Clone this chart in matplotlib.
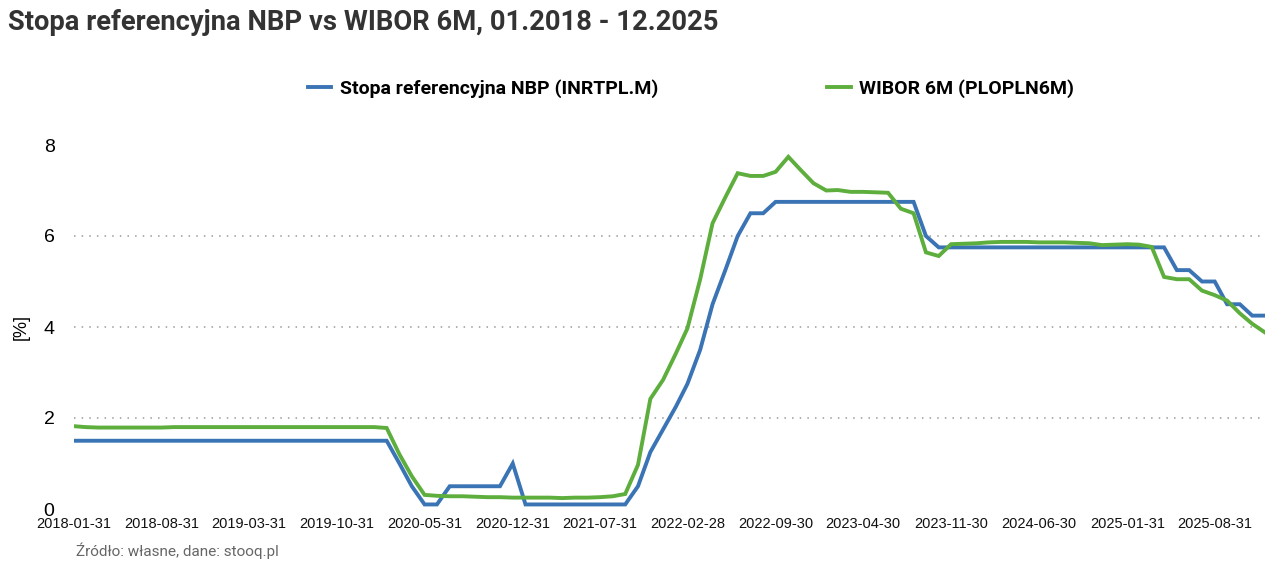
import matplotlib
matplotlib.use("Agg")
import matplotlib.pyplot as plt
import pandas as pd

# miesiące (koniec miesiąca) 2018-01 .. 2025-12
daty = pd.date_range("2018-01-31", periods=96, freq="ME")

# stopa referencyjna NBP [%]
nbp = [1.5, 1.5, 1.5, 1.5, 1.5, 1.5, 1.5, 1.5, 1.5, 1.5, 1.5, 1.5,
       1.5, 1.5, 1.5, 1.5, 1.5, 1.5, 1.5, 1.5, 1.5, 1.5, 1.5, 1.5,
       1.5, 1.5, 1.0, 0.5, 0.1, 0.1, 0.5, 0.5, 0.5, 0.5, 0.5, 1.0,
       0.1, 0.1, 0.1, 0.1, 0.1, 0.1, 0.1, 0.1, 0.1, 0.5, 1.25, 1.75,
       2.25, 2.75, 3.5, 4.5, 5.25, 6.0, 6.5, 6.5, 6.75, 6.75, 6.75, 6.75,
       6.75, 6.75, 6.75, 6.75, 6.75, 6.75, 6.75, 6.75, 6.0, 5.75, 5.75, 5.75,
       5.75, 5.75, 5.75, 5.75, 5.75, 5.75, 5.75, 5.75, 5.75, 5.75, 5.75, 5.75,
       5.75, 5.75, 5.75, 5.75, 5.25, 5.25, 5.0, 5.0, 4.5, 4.5, 4.25, 4.25]

# WIBOR 6M [%]
wibor = [1.82, 1.80, 1.79, 1.79, 1.79, 1.79, 1.79, 1.79, 1.80, 1.80, 1.80, 1.80,
         1.80, 1.80, 1.80, 1.80, 1.80, 1.80, 1.80, 1.80, 1.80, 1.80, 1.80, 1.80,
         1.80, 1.78, 1.20, 0.72, 0.31, 0.29, 0.28, 0.28, 0.27, 0.26, 0.26, 0.25,
         0.25, 0.25, 0.25, 0.24, 0.25, 0.25, 0.26, 0.28, 0.33, 0.97, 2.42, 2.84,
         3.42, 3.97, 5.05, 6.28, 6.85, 7.38, 7.32, 7.32, 7.41, 7.74, 7.45, 7.16,
         7.00, 7.01, 6.97, 6.97, 6.96, 6.95, 6.60, 6.50, 5.64, 5.56, 5.82, 5.83,
         5.84, 5.86, 5.87, 5.87, 5.87, 5.86, 5.86, 5.86, 5.85, 5.84, 5.80, 5.81,
         5.82, 5.81, 5.76, 5.10, 5.05, 5.05, 4.80, 4.70, 4.58, 4.30, 4.07, 3.88]

etykiety = ["Stopa referencyjna NBP (INRTPL.M)", "WIBOR 6M (PLOPLN6M)"]
tytul = "Stopa referencyjna NBP vs WIBOR 6M, 01.2018 - 12.2025"
zrodlo = "Źródło: własne, dane: stooq.pl"

fig = plt.figure(figsize=(12.8, 5.67), dpi=100)
ax = fig.add_axes([74 / 1280, 58 / 567, (1265 - 74) / 1280, (509 - 145) / 567])

ax.plot(daty, nbp, color="#3a74b4", lw=2.8, label=etykiety[0], solid_joinstyle="miter")
ax.plot(daty, wibor, color="#5dae3d", lw=2.8, label=etykiety[1], solid_joinstyle="miter")

ax.set_xlim(daty[0], daty[-1])
ax.set_ylim(0, 8)
ax.set_yticks([0, 2, 4, 6, 8])
ax.set_xticks(daty[::7])
ax.set_xticklabels([d.strftime("%Y-%m-%d") for d in daty[::7]],
                   fontsize=10.5, family="Liberation Sans", color="#111111")
for t in ax.get_yticklabels():
    t.set_fontsize(14)
    t.set_family("Liberation Sans")
ax.tick_params(length=0)
ax.tick_params(axis="x", pad=6)
ax.tick_params(axis="y", pad=14)
for s in ax.spines.values():
    s.set_visible(False)
for y in [2, 4, 6]:
    ax.axhline(y, color="#9a9a9a", lw=1.1, ls=(0, (1, 4)), zorder=0)

ax.set_ylabel("[%]", fontsize=13, family="Liberation Sans", labelpad=10)

fig.text(8 / 1280, 1 - 22 / 567, tytul, fontsize=19.7, fontweight="bold",
         family="Roboto", color="#333333", va="center", ha="left")

leg = ax.legend(loc="center", bbox_to_anchor=(691 / 1280, 1 - 89 / 567),
                bbox_transform=fig.transFigure, ncol=2, frameon=False,
                handlelength=1.2, columnspacing=8.7, handletextpad=0.45,
                prop={"family": "Roboto", "weight": "bold", "size": 14})

fig.text(76 / 1280, 1 - 551 / 567, zrodlo, fontsize=11, family="Roboto",
         color="#666666", va="center", ha="left")

fig.savefig("out.png", dpi=100, facecolor="white")
